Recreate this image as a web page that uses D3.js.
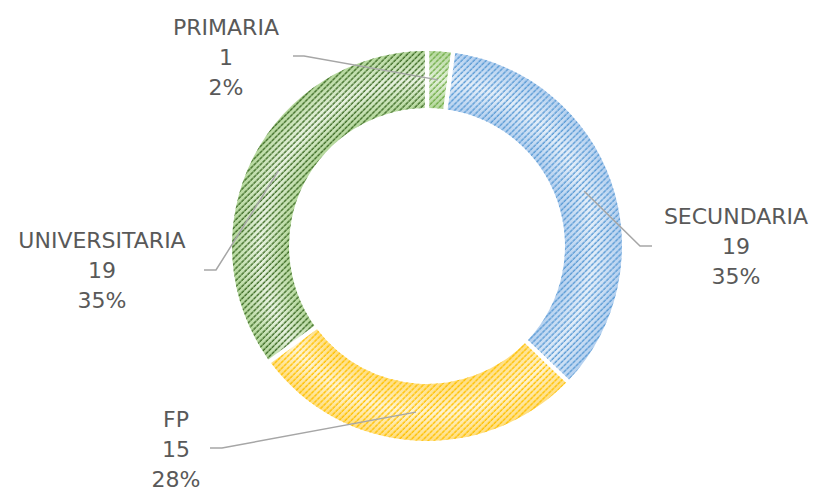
<!DOCTYPE html>
<html>
<head>
<meta charset="utf-8">
<script src="https://cdn.jsdelivr.net/npm/d3@7"></script>
<style>
  html, body { margin: 0; padding: 0; background: #fff; }
  svg { display: block; }
</style>
</head>
<body>
<svg id="chart" width="815" height="489"></svg>
<script>
// ---- data ----
const categories = ["PRIMARIA", "SECUNDARIA", "FP", "UNIVERSITARIA"];
const values = [1, 19, 15, 19];
const percentLabels = ["2%", "35%", "28%", "35%"];

// ---- style ----
const stripeColors = ["#70ad47", "#5b9bd5", "#ffc000", "#3f6e27"];
const edgeColors   = ["#b5d89c", "#b4d0ef", "#ffde80", "#b5d89c"];
const midColors    = ["#e2f0d9", "#e3eef9", "#fff4d0", "#e8f3e0"];
// label anchor (text center x, first baseline y) and leader elbow
const labelLayout = [
  { x: 226, y: 35,  lx: 293, ex: 304, ly: 56 },
  { x: 736, y: 224, lx: 652, ex: 640, ly: 246 },
  { x: 176, y: 427, lx: 210, ex: 222, ly: 448 },
  { x: 102, y: 248, lx: 204, ex: 216, ly: 270 }
];

const svg = d3.select("#chart");
const cx = 427, cy = 246;
const outerR = 195, innerR = 138;

const defs = svg.append("defs");
categories.forEach((c, i) => {
  const g = defs.append("radialGradient")
    .attr("id", "grad" + i)
    .attr("gradientUnits", "userSpaceOnUse")
    .attr("cx", 0).attr("cy", 0).attr("r", outerR);
  g.append("stop").attr("offset", innerR / outerR).attr("stop-color", edgeColors[i]);
  g.append("stop").attr("offset", (innerR / outerR + 1) / 2).attr("stop-color", midColors[i]);
  g.append("stop").attr("offset", 1).attr("stop-color", edgeColors[i]);

  const p = defs.append("pattern")
    .attr("id", "pat" + i)
    .attr("patternUnits", "userSpaceOnUse")
    .attr("width", 4.3).attr("height", 4.3)
    .attr("patternTransform", "rotate(45)");
  p.append("line")
    .attr("x1", 1).attr("y1", -1).attr("x2", 1).attr("y2", 6)
    .attr("stroke", stripeColors[i])
    .attr("stroke-width", 1.4)
    .attr("stroke-dasharray", "2.2 0.8");
});

const pie = d3.pie().sort(null).value(d => d)
  .padAngle(4.5 / Math.sqrt(innerR * innerR + outerR * outerR));
const arcs = pie(values);
const arc = d3.arc().innerRadius(innerR).outerRadius(outerR);
const midArc = d3.arc().innerRadius((innerR + outerR) / 2).outerRadius((innerR + outerR) / 2);

const g = svg.append("g").attr("transform", `translate(${cx},${cy})`);
g.selectAll("path.base").data(arcs).enter().append("path")
  .attr("class", "base")
  .attr("d", arc)
  .attr("fill", (d, i) => `url(#grad${i})`);
g.selectAll("path.stripe").data(arcs).enter().append("path")
  .attr("class", "stripe")
  .attr("d", arc)
  .attr("fill", (d, i) => `url(#pat${i})`);

// leader lines
arcs.forEach((d, i) => {
  const L = labelLayout[i];
  const [px, py] = midArc.centroid(d);
  svg.append("polyline")
    .attr("points", `${L.lx},${L.ly} ${L.ex},${L.ly} ${px + cx},${py + cy}`)
    .attr("fill", "none")
    .attr("stroke", "#a6a6a6")
    .attr("stroke-width", 1.5);
});

// labels
arcs.forEach((d, i) => {
  const L = labelLayout[i];
  const t = svg.append("text")
    .attr("text-anchor", "middle")
    .attr("font-family", "'DejaVu Sans', sans-serif")
    .attr("font-size", 22)
    .attr("fill", "#595959");
  [categories[i], String(values[i]), percentLabels[i]].forEach((s, k) => {
    t.append("tspan").attr("x", L.x).attr("y", L.y + k * 30).text(s);
  });
});
</script>
</body>
</html>
